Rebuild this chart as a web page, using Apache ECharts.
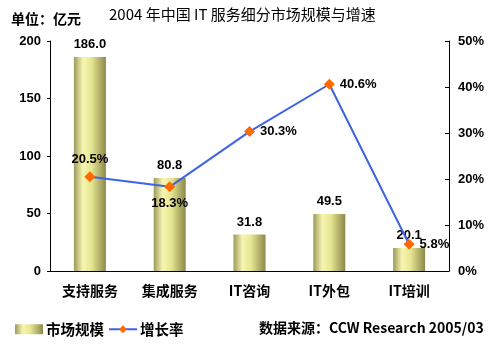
<!DOCTYPE html>
<html>
<head>
<meta charset="utf-8">
<script src="https://cdn.jsdelivr.net/npm/echarts@6/dist/echarts.min.js"></script>
<style>
  html, body { margin: 0; padding: 0; background: #fff; }
  #chart { width: 493px; height: 344px; }
</style>
</head>
<body>
<div id="chart"></div>
<script>
// 2004 China IT services market segments: size (亿元) and growth rate (%)
const categories = ['支持服务', '集成服务', 'IT咨询', 'IT外包', 'IT培训'];
const marketSize = [186.0, 80.8, 31.8, 49.5, 20.1];
const growthRate = [20.5, 18.3, 30.3, 40.6, 5.8];
const growthLabelPos = ['top', 'bottom', 'right', 'right', 'right'];

const numFont = 'Arial, "Liberation Sans", "Noto Sans CJK SC", sans-serif';
const cjkFont = '"Noto Sans CJK SC", Arial, sans-serif';

const barGradient = new echarts.graphic.LinearGradient(0, 0, 1, 0, [
  { offset: 0, color: '#9c9a5a' },
  { offset: 0.28, color: '#f6f6b2' },
  { offset: 0.55, color: '#e6e692' },
  { offset: 1, color: '#8c884a' }
]);

const chart = echarts.init(document.getElementById('chart'), null, { renderer: 'canvas' });

chart.setOption({
  animation: false,
  backgroundColor: '#ffffff',
  title: [
    {
      text: '2004 年中国 IT 服务细分市场规模与增速',
      left: 104, top: 2,
      textStyle: { fontFamily: cjkFont, fontSize: 15, fontWeight: 'normal', color: '#000' }
    },
    {
      text: '单位：亿元',
      left: 6, top: 7,
      textStyle: { fontFamily: cjkFont, fontSize: 14, fontWeight: 'bold', color: '#000' }
    },
    {
      text: '数据来源：CCW Research 2005/03',
      left: 254, top: 316,
      textStyle: { fontFamily: cjkFont, fontSize: 14, fontWeight: 'bold', color: '#000' }
    }
  ],
  legend: {
    left: 10, top: 317,
    itemGap: 4,
    itemWidth: 28, itemHeight: 10,
    textStyle: { fontFamily: cjkFont, fontSize: 14.5, fontWeight: 'bold', color: '#000', padding: [0, 0, 0, -2] },
    data: [
      { name: '市场规模', icon: 'rect' },
      { name: '增长率' }
    ]
  },
  grid: { left: 50, right: 44, top: 41, bottom: 73 },
  xAxis: {
    type: 'category',
    data: categories,
    axisLine: { lineStyle: { color: '#000', width: 1 } },
    axisTick: { inside: true, length: 4, lineStyle: { color: '#000' } },
    axisLabel: { fontFamily: cjkFont, fontSize: 14, fontWeight: 'bold', color: '#000', margin: 13 }
  },
  yAxis: [
    {
      type: 'value', min: 0, max: 200, interval: 50,
      splitLine: { show: false },
      axisLine: { show: true, lineStyle: { color: '#000' } },
      axisTick: { show: true, length: 3, lineStyle: { color: '#000' } },
      axisLabel: { fontFamily: numFont, fontSize: 13, fontWeight: 'bold', color: '#000', margin: 9 }
    },
    {
      type: 'value', min: 0, max: 50, interval: 10,
      splitLine: { show: false },
      axisLine: { show: true, lineStyle: { color: '#000' } },
      axisTick: { show: true, inside: true, length: 4, lineStyle: { color: '#000' } },
      axisLabel: { fontFamily: numFont, fontSize: 13, fontWeight: 'bold', color: '#000', margin: 9, formatter: '{value}%' }
    }
  ],
  series: [
    {
      name: '市场规模',
      type: 'bar',
      yAxisIndex: 0,
      data: marketSize,
      barWidth: 32,
      itemStyle: { color: barGradient },
      label: {
        show: true, position: 'top', distance: 6,
        fontFamily: numFont, fontSize: 13, fontWeight: 'bold', color: '#000',
        formatter: p => p.value.toFixed(1)
      },
      z: 1
    },
    {
      name: '增长率',
      type: 'line',
      yAxisIndex: 1,
      data: growthRate.map((v, i) => ({
        value: v,
        label: { position: growthLabelPos[i] }
      })),
      symbol: 'diamond',
      symbolSize: 11,
      lineStyle: { color: '#3f63e6', width: 2 },
      itemStyle: { color: '#ff6a00', borderWidth: 0 },
      label: {
        show: true, distance: 5,
        fontFamily: numFont, fontSize: 13, fontWeight: 'bold', color: '#000',
        formatter: p => p.value.toFixed(1) + '%'
      },
      z: 3
    }
  ]
});
</script>
</body>
</html>
